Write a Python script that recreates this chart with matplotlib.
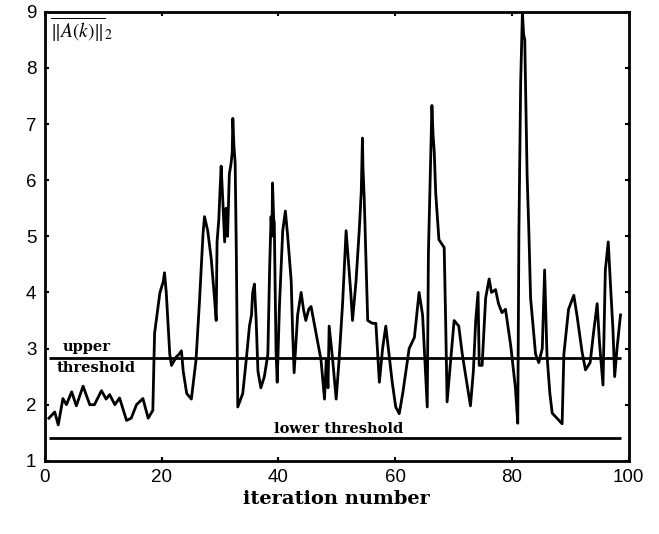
import matplotlib
matplotlib.use("Agg")
import matplotlib.pyplot as plt

# Werte (Iteration, Norm)
iteration = [
    0.7, 1.7, 2.3, 3.1, 3.7, 4.6, 5.4, 6.55, 7.7, 8.5, 9.7, 10.5, 11.1, 12.0,
    12.8, 14.0, 14.8, 15.7, 16.8, 17.7, 18.5, 18.8, 19.7, 20.3, 20.5, 20.8,
    21.4, 21.7, 22.5, 23.0, 23.4, 23.7, 24.3, 25.1, 25.9, 26.5, 27.1, 27.35,
    27.9, 28.5, 29.06, 29.35, 29.5, 29.8, 30.0, 30.2, 30.5, 30.8, 31.05, 31.3,
    31.6, 31.9, 32.1, 32.2, 32.4, 32.6, 32.8, 33.05, 33.9, 34.5, 35.05, 35.4,
    35.6, 35.9, 36.2, 36.5, 37.0, 37.6, 38.2, 38.5, 38.75, 38.9, 39.0, 39.2,
    39.3, 39.6, 39.8, 40.2, 40.75, 41.2, 41.6, 42.2, 42.45, 42.7, 43.3, 43.9,
    44.3, 44.7, 45.2, 45.6, 46.4, 47.3, 47.9, 48.2, 48.5, 48.7, 49.3, 49.9,
    50.4, 51.0, 51.6, 52.1, 52.4, 52.7, 53.3, 53.85, 54.2, 54.4, 54.5, 54.7,
    55.3, 56.1, 56.7, 57.3, 57.85, 58.4, 58.95, 59.5, 60.1, 60.7, 61.3, 62.4,
    63.3, 64.1, 64.7, 65.5, 65.7, 66.1, 66.3, 66.5, 66.7, 66.95, 67.5, 68.4,
    68.65, 68.9, 70.1, 70.9, 71.5, 72.9, 73.4, 73.8, 74.2, 74.4, 74.9, 75.5,
    76.1, 76.5, 77.2, 77.7, 78.3, 78.9, 79.8, 80.6, 81.0, 81.2, 81.5, 81.8,
    82.0, 82.2, 82.45, 82.6, 82.9, 83.2, 84.05, 84.6, 85.2, 85.6, 86.0, 86.5,
    86.9, 88.6, 88.9, 89.7, 90.6, 91.2, 92.0, 92.6, 93.4, 94.0, 94.6, 95.0,
    95.6, 96.0, 96.5, 96.9, 97.3, 97.6, 98.0, 98.6,
]
norm_wert = [
    1.76, 1.87, 1.64, 2.11, 2.0, 2.23, 1.98, 2.33, 2.0, 2.0, 2.25, 2.1, 2.18, 2.0,
    2.12, 1.72, 1.76, 2.0, 2.11, 1.76, 1.9, 3.27, 3.99, 4.2, 4.35, 4.0,
    2.9, 2.7, 2.85, 2.9, 2.96, 2.6, 2.2, 2.1, 2.8, 3.86, 5.05, 5.35,
    5.1, 4.6, 3.9, 3.5, 4.9, 5.3, 5.8, 6.25, 5.6, 4.9, 5.5, 5.0,
    6.1, 6.3, 6.5, 7.1, 6.6, 6.3, 4.73, 1.96, 2.2, 2.8, 3.4, 3.6,
    4.0, 4.15, 3.5, 2.6, 2.3, 2.5, 2.9, 4.4, 5.35, 5.0, 5.95, 5.3,
    5.25, 2.96, 2.4, 3.8, 5.1, 5.45, 5.0, 4.2, 3.27, 2.57, 3.6, 4.0,
    3.7, 3.5, 3.7, 3.75, 3.3, 2.8, 2.1, 2.8, 2.3, 3.4, 2.8, 2.1,
    2.8, 3.8, 5.1, 4.4, 4.0, 3.5, 4.2, 5.1, 5.8, 6.75, 6.2, 5.7,
    3.5, 3.45, 3.45, 2.4, 3.0, 3.4, 2.9, 2.4, 1.96, 1.84, 2.2, 3.0,
    3.2, 4.0, 3.6, 1.96, 4.7, 6.5, 7.33, 6.8, 6.5, 5.77, 4.94, 4.8,
    3.5, 2.05, 3.5, 3.4, 2.9, 1.98, 2.6, 3.5, 4.0, 2.7, 2.7, 3.9,
    4.24, 4.0, 4.05, 3.8, 3.64, 3.7, 3.05, 2.3, 1.67, 5.1, 7.74, 9.0,
    8.6, 8.5, 6.95, 6.1, 5.1, 3.9, 2.9, 2.75, 3.0, 4.4, 2.9, 2.2,
    1.85, 1.66, 2.9, 3.7, 3.95, 3.55, 2.95, 2.62, 2.75, 3.3, 3.8, 3.1,
    2.35, 4.4, 4.9, 4.1, 3.35, 2.5, 3.0, 3.6,
]

OBERE_SCHWELLE = 2.83
UNTERE_SCHWELLE = 1.41

fig = plt.figure(figsize=(6.59, 5.34), dpi=100)
ax = fig.add_axes([0.068, 0.137, 0.886, 0.841])

ax.plot(iteration, norm_wert, color='black', linewidth=2.0)
ax.hlines([OBERE_SCHWELLE, UNTERE_SCHWELLE], 0.8, 98.6, color='black', linewidth=2.0)

ax.set_xlim(0, 100)
ax.set_ylim(1, 9)
ax.set_xticks([0, 20, 40, 60, 80, 100])
ax.set_yticks(range(1, 10))
ax.tick_params(direction='in', length=3, width=1.5, top=True, right=True,
               labelsize=13.5, pad=6)
for lbl in ax.get_xticklabels() + ax.get_yticklabels():
    lbl.set_fontfamily('Liberation Sans')
for s in ax.spines.values():
    s.set_linewidth(2.0)

serif_bold = dict(family='DejaVu Serif', fontweight='bold', fontsize=10.5)
ax.text(7.2, 3.03, 'upper', ha='center', va='center', **serif_bold)
ax.text(8.7, 2.66, 'threshold', ha='center', va='center', **serif_bold)
ax.text(50.3, 1.56, 'lower threshold', ha='center', va='center', **serif_bold)

plt.rcParams['mathtext.fontset'] = 'stix'
ax.text(0.9, 8.93, r'$\overline{\Vert A(k)\Vert}_{2}$', ha='left', va='top', fontsize=14)

ax.set_xlabel('iteration number', family='DejaVu Serif', fontweight='bold',
              fontsize=14, labelpad=3)

fig.savefig('out.png', dpi=100)
